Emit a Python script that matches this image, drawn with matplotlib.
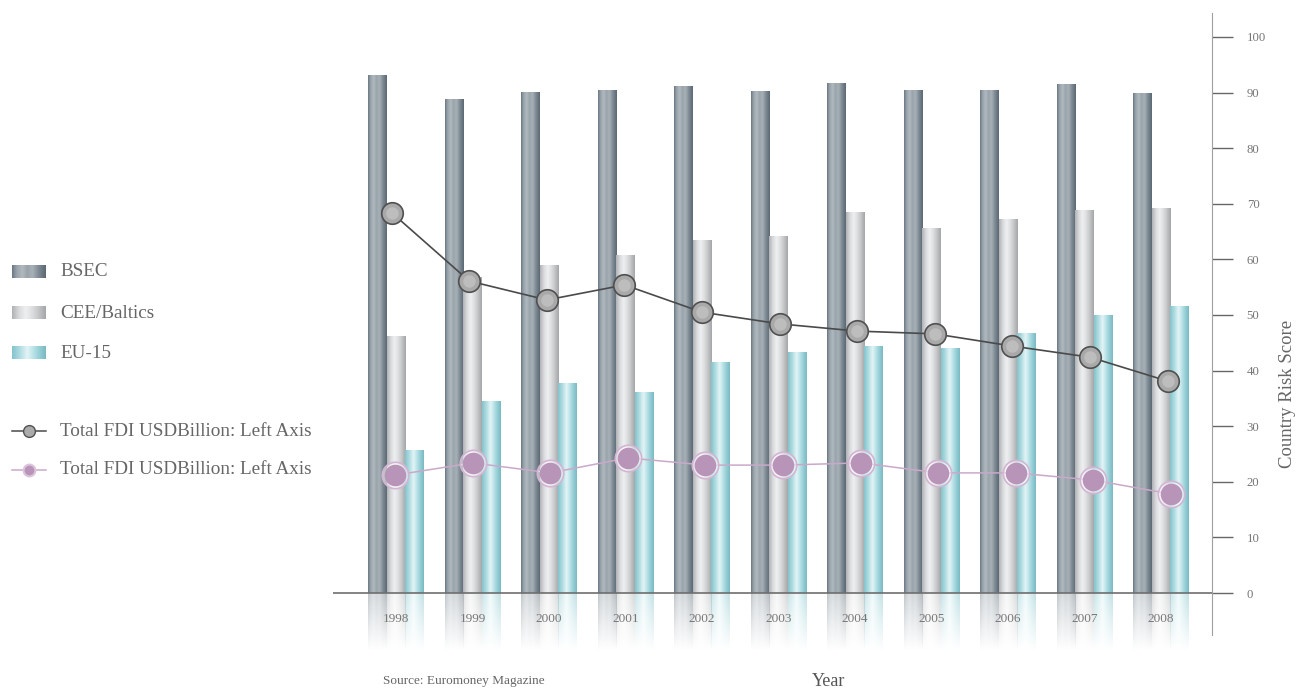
import numpy as np
import matplotlib
matplotlib.use("Agg")
import matplotlib.pyplot as plt
from matplotlib.colors import LinearSegmentedColormap

plt.rcParams["font.family"] = ["Liberation Serif", "DejaVu Serif"]

years = ["1998", "1999", "2000", "2001", "2002", "2003", "2004", "2005", "2006", "2007", "2008"]
bsec = [93.2, 88.8, 90.1, 90.5, 91.2, 90.3, 91.7, 90.5, 90.5, 91.5, 89.9]
cee_baltics = [46.2, 56.8, 59.0, 60.8, 63.5, 64.2, 68.5, 65.6, 67.3, 68.9, 69.2]
eu15 = [25.7, 34.5, 37.8, 36.2, 41.5, 43.3, 44.4, 44.1, 46.8, 50.0, 51.6]
fdi_black = [68.4, 56.1, 52.7, 55.4, 50.5, 48.4, 47.1, 46.6, 44.4, 42.4, 38.1]
fdi_pink = [21.2, 23.4, 21.6, 24.3, 23.0, 23.0, 23.4, 21.6, 21.6, 20.3, 17.8]
right_ticks = [0, 10, 20, 30, 40, 50, 60, 70, 80, 90, 100]

CMAPS = {
    "BSEC": LinearSegmentedColormap.from_list("bsec", [
        (0, "#6b7883"), (0.12, "#95a0a8"), (0.3, "#b2bac0"), (0.45, "#98a3aa"),
        (0.6, "#a8b1b7"), (0.8, "#7d8a93"), (1, "#5b6974")]),
    "CEE/Baltics": LinearSegmentedColormap.from_list("cee", [
        (0, "#b0b2b5"), (0.2, "#d9dadc"), (0.4, "#eeeff0"), (0.55, "#e2e3e5"),
        (0.75, "#c9cbcd"), (1, "#a4a6a9")]),
    "EU-15": LinearSegmentedColormap.from_list("eu", [
        (0, "#84c4cc"), (0.2, "#a9d9df"), (0.45, "#e3f4f6"), (0.6, "#c0e6ea"),
        (0.8, "#98d0d7"), (1, "#79bac3")]),
}


def gradient_bars(ax, x, heights, width, cmap):
    bars = ax.bar(x, heights, width=width, color="none", edgecolor="none", zorder=2)
    grad = cmap(np.linspace(0, 1, 64))[None, :, :]
    for bar in bars:
        x0, w, h = bar.get_x(), bar.get_width(), bar.get_height()
        im = ax.imshow(grad, extent=(x0, x0 + w, 0, h), aspect="auto",
                       interpolation="bilinear", zorder=2)
        im.set_clip_path(bar)
        refl = grad.repeat(40, axis=0).copy()
        refl[:, :, 3] = np.linspace(0.45, 0.0, 40)[:, None]
        ax.imshow(refl, extent=(x0, x0 + w, -10.5, 0), aspect="auto",
                  interpolation="bilinear", zorder=1, clip_on=False)
    return bars


fig = plt.figure(figsize=(12.96, 6.88), dpi=100)
pos = [333 / 1296, 1 - 635 / 688, (1212 - 333) / 1296, (635 - 13) / 688]
ax = fig.add_axes(pos)

x = np.arange(len(years))
w = 0.242
gradient_bars(ax, x - w, bsec, w, CMAPS["BSEC"])
gradient_bars(ax, x, cee_baltics, w, CMAPS["CEE/Baltics"])
gradient_bars(ax, x + w, eu15, w, CMAPS["EU-15"])

ax.axhline(0, color="#6e6e6e", lw=1.2, zorder=3)
for i, yr in enumerate(years):
    ax.text(i, -4.7, yr, ha="center", va="center", fontsize=9.5, color="#777777", zorder=4)

ax.set_xlim(-0.824, 10.667)
ax.set_ylim(-7.55, 104.3)
ax.set_xticks([])
ax.yaxis.tick_right()
ax.set_yticks(right_ticks)
ax.tick_params(axis="y", direction="out", length=15, width=1, color="#666666",
               pad=10, labelsize=9.2, labelcolor="#777777")
for side in ["left", "top", "bottom"]:
    ax.spines[side].set_visible(False)
ax.spines["right"].set_color("#a0a0a0")
ax.patch.set_visible(False)

# lines plotted against the hidden left axis
axl = fig.add_axes(pos)
axl.set_xlim(-0.799, 10.528)
axl.set_ylim(-7.55, 104.3)
axl.axis("off")
axl.plot(x - 0.043, fdi_black, color="#4a4a4a", lw=1.2, marker="o", markersize=15.5,
         markerfacecolor="#a9a9a9", markeredgecolor="#505050", markeredgewidth=1.2, zorder=5)
axl.plot(x - 0.043, fdi_black, ls="none", marker="o", markersize=9,
         markerfacecolor="#bdbdbd", markeredgecolor="none", zorder=5)
axl.plot(x, fdi_pink, color="#c9a9ca", lw=1.1, zorder=5)
axl.plot(x, fdi_pink, ls="none", marker="o", markersize=19, markerfacecolor=(1, 1, 1, 0.55),
         markeredgecolor="#d4b4d4", markeredgewidth=1.2, zorder=5)
axl.plot(x, fdi_pink, ls="none", marker="o", markersize=14.5, markerfacecolor="#b994b9",
         markeredgecolor="#b994b9", zorder=6)

fig.text(1288 / 1296, 1 - 394 / 688, "Country Risk Score", rotation=90, ha="center",
         va="center", fontsize=13.5, color="#666666")
fig.text(829 / 1296, 1 - 681 / 688, "Year", ha="center", va="center", fontsize=13, color="#555555")
fig.text(383 / 1296, 1 - 681 / 688, "Source: Euromoney Magazine", ha="left", va="center",
         fontsize=9.5, color="#666666")

# legend drawn in pixel coordinates
leg = fig.add_axes([0, 0, 1, 1])
leg.set_xlim(0, 1296)
leg.set_ylim(688, 0)
leg.axis("off")
for name, yc in [("BSEC", 272), ("CEE/Baltics", 313), ("EU-15", 353)]:
    grad = CMAPS[name](np.linspace(0, 1, 64))[None, :, :]
    leg.imshow(grad, extent=(12, 46, yc + 6.5, yc - 6.5), aspect="auto", interpolation="bilinear")
    leg.text(60, yc, name, ha="left", va="center", fontsize=13.8, color="#666666")
leg.plot([12, 46], [431, 431], color="#4a4a4a", lw=1.1, marker="none")
leg.plot([29], [431], marker="o", markersize=8.5, markerfacecolor="#ababab",
         markeredgecolor="#505050", markeredgewidth=1)
leg.text(60, 431, "Total FDI USDBillion: Left Axis", ha="left", va="center", fontsize=13.8, color="#666666")
leg.plot([12, 46], [470, 470], color="#c9a9ca", lw=1.1)
leg.plot([29], [470], marker="o", markersize=8.5, markerfacecolor="#b994b9",
         markeredgecolor="#dcc4dc", markeredgewidth=1.5)
leg.text(60, 470, "Total FDI USDBillion: Left Axis", ha="left", va="center", fontsize=13.8, color="#666666")
leg.set_xlim(0, 1296)
leg.set_ylim(688, 0)

fig.savefig("out.png", dpi=100)
